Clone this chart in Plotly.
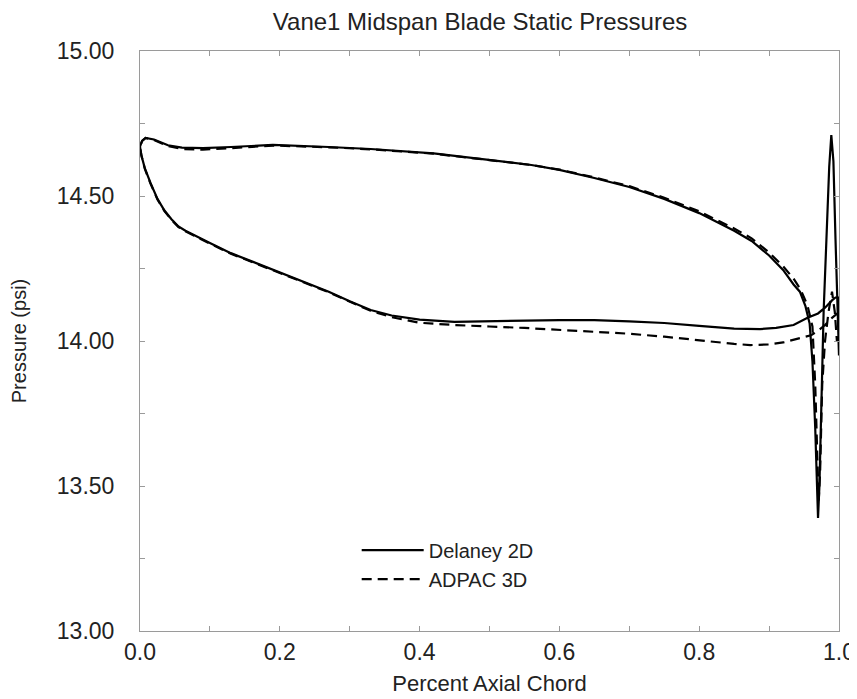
import plotly.graph_objects as go

# ---- data ----
delaney_x = [1.0, 0.995, 0.99, 0.98, 0.97, 0.955, 0.935, 0.91, 0.887, 0.85, 0.8, 0.75, 0.7, 0.65, 0.6,
             0.55, 0.5, 0.45, 0.4, 0.36, 0.33, 0.3, 0.27, 0.23, 0.19, 0.15, 0.13, 0.1, 0.08, 0.065, 0.055,
             0.045, 0.035, 0.025, 0.015, 0.007, 0.002, 0.0,
             0.003, 0.008, 0.02, 0.04, 0.06, 0.09, 0.13, 0.19, 0.27, 0.33, 0.42, 0.5, 0.56, 0.6, 0.65,
             0.7, 0.75, 0.8, 0.85, 0.875, 0.9, 0.92, 0.935, 0.944, 0.952, 0.958, 0.962, 0.966, 0.969,
             0.970, 0.972, 0.975, 0.978, 0.982, 0.986, 0.989, 0.992, 0.995, 0.997, 1.0, 1.0]
delaney_p = [14.15, 14.15, 14.14, 14.115, 14.095, 14.08, 14.055, 14.045, 14.041, 14.043, 14.052, 14.062,
             14.068, 14.072, 14.072, 14.07, 14.066, 14.066, 14.074, 14.088, 14.107, 14.137, 14.170, 14.208,
             14.245, 14.282, 14.303, 14.338, 14.362, 14.38, 14.395, 14.42, 14.45, 14.49, 14.545, 14.595,
             14.64, 14.67,
             14.69, 14.70, 14.695, 14.675, 14.667, 14.665, 14.669, 14.676, 14.669, 14.662, 14.647,
             14.624, 14.607, 14.59, 14.562, 14.531, 14.49, 14.441, 14.38, 14.345, 14.295, 14.245, 14.195,
             14.17, 14.12, 14.06, 13.93, 13.70, 13.48, 13.39, 13.50, 13.85, 14.10, 14.35, 14.60, 14.71,
             14.62, 14.35, 14.20, 13.95, 14.15]

adpac_x = [1.0, 0.99, 0.98, 0.97, 0.96, 0.944, 0.92, 0.9, 0.873, 0.85, 0.8, 0.75, 0.7, 0.658, 0.6,
           0.55, 0.5, 0.45, 0.4, 0.36, 0.33, 0.3, 0.27, 0.23, 0.19, 0.15, 0.13, 0.1, 0.08, 0.065, 0.055,
           0.045, 0.035, 0.025, 0.015, 0.007, 0.002, 0.0,
           0.003, 0.008, 0.02, 0.04, 0.06, 0.09, 0.13, 0.19, 0.27, 0.33, 0.42, 0.5, 0.56, 0.6, 0.65,
           0.7, 0.75, 0.8, 0.85, 0.875, 0.9, 0.92, 0.935, 0.945, 0.955, 0.962, 0.966, 0.969, 0.971,
           0.973, 0.976, 0.98, 0.985, 0.99, 0.994, 0.997, 1.0, 1.0]
adpac_p = [14.10, 14.08, 14.055, 14.035, 14.02, 14.01, 13.995, 13.988, 13.986, 13.99, 14.003, 14.015,
           14.025, 14.031, 14.038, 14.045, 14.05, 14.055, 14.063, 14.082, 14.104, 14.135, 14.168, 14.206,
           14.243, 14.28, 14.301, 14.336, 14.36, 14.378, 14.393, 14.418, 14.448, 14.488, 14.543, 14.593,
           14.64, 14.67,
           14.69, 14.70, 14.693, 14.672, 14.662, 14.660, 14.665, 14.674, 14.668, 14.661, 14.646,
           14.623, 14.607, 14.591, 14.564, 14.534, 14.494, 14.447, 14.388, 14.354, 14.305, 14.258,
           14.215, 14.178, 14.122, 14.05, 13.85, 13.60, 13.45, 13.55, 13.85, 14.00, 14.10, 14.17,
           14.10, 14.00, 14.05, 14.10]

series_names = ["Delaney 2D", "ADPAC 3D"]
title_text = "Vane1 Midspan Blade Static Pressures"
x_title = "Percent Axial Chord"
y_title = "Pressure (psi)"

FONT = "Liberation Sans, Arial, sans-serif"
TXT = "#222"
AX = "#9a9a9a"
W, H = 849, 691  # page adds an 8px body margin

fig = go.Figure()
fig.add_trace(go.Scatter(x=delaney_x, y=delaney_p, mode="lines", name=series_names[0],
                         line=dict(color="black", width=2.2)))
fig.add_trace(go.Scatter(x=adpac_x, y=adpac_p, mode="lines", name=series_names[1],
                         line=dict(color="black", width=2.2, dash="10px,6px")))

axis_common = dict(showline=True, linecolor=AX, linewidth=1, mirror="ticks", automargin=False,
                   ticks="inside", ticklen=5, tickcolor=AX, showgrid=False, zeroline=False,
                   tickfont=dict(family=FONT, size=23, color=TXT))

fig.update_layout(
    width=W, height=H,
    margin=dict(l=132, r=18, t=43, b=68, autoexpand=False),
    paper_bgcolor="white", plot_bgcolor="white",
    font=dict(family=FONT, color=TXT),
    title=dict(text=title_text, x=0.556, xanchor="center", y=1 - 14 / H, yanchor="middle",
               font=dict(size=24, color=TXT)),
    showlegend=True,
    legend=dict(x=0.31, y=0.173, xanchor="left", yanchor="top", bgcolor="rgba(0,0,0,0)",
                font=dict(size=20, color=TXT), tracegroupgap=0, itemwidth=62),
    xaxis=dict(range=[0, 1], dtick=0.2, tick0=0, tickformat=".1f", ticklabelstandoff=0,
               minor=dict(dtick=0.1, ticks="inside", ticklen=5, tickcolor=AX),
               title=dict(text=x_title, font=dict(size=22), standoff=12), **axis_common),
    yaxis=dict(range=[13, 15], dtick=0.5, tick0=13, tickformat=".2f", ticklabelstandoff=20,
               minor=dict(dtick=0.25, ticks="inside", ticklen=5, tickcolor=AX),
               title=dict(text=y_title, font=dict(size=20), standoff=25), **axis_common),
)

fig.write_html("out.html")
